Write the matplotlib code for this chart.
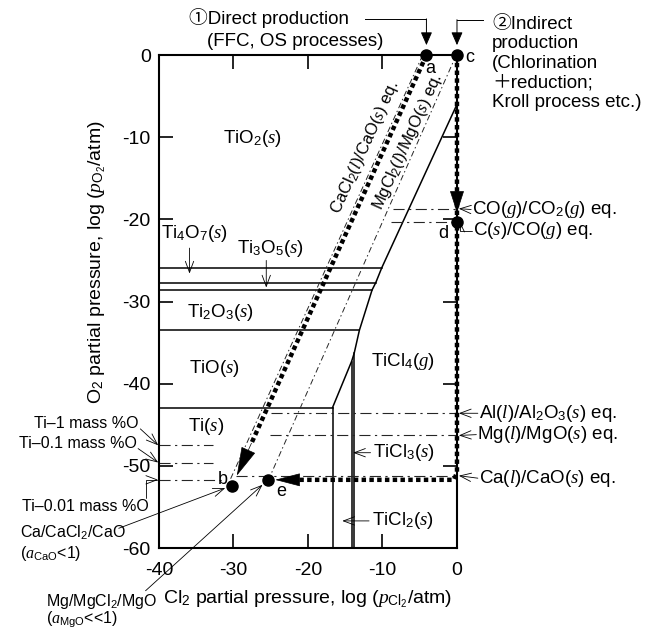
import matplotlib
matplotlib.use("Agg")
import matplotlib.pyplot as plt

plt.rcParams['font.family'] = ['Liberation Sans', 'Noto Sans CJK JP', 'DejaVu Sans']
plt.rcParams['mathtext.fontset'] = 'custom'
plt.rcParams['mathtext.rm'] = 'Liberation Sans'
plt.rcParams['mathtext.it'] = 'Liberation Serif:italic'
plt.rcParams['mathtext.bf'] = 'Liberation Sans:bold'
plt.rcParams['axes.unicode_minus'] = False

# phase boundaries, x = log pCl2, y = log pO2
oxide_y = [-25.9, -27.7, -28.6, -33.5, -42.9]
oxide_xend = [-10.1, -10.9, -11.4, -13.1, -16.7]
slope_x = [0, -10.1, -10.9, -11.4, -13.1, -13.8, -14.15, -16.7]
slope_y = [-6.0, -25.9, -27.7, -28.6, -33.5, -36.3, -37.3, -42.9]
chloride_x = [-13.8, -14.15, -16.7]
chloride_ytop = [-36.3, -37.3, -42.9]

# equilibrium lines (right side)
eq_names = [r"CO($g$)/CO$_2$($g$) eq.", r"C($s$)/CO($g$) eq.",
            r"Al($l$)/Al$_2$O$_3$($s$) eq.", r"Mg($l$)/MgO($s$) eq.",
            r"Ca($l$)/CaO($s$) eq."]
eq_y = [-18.7, -20.3, -43.6, -46.3, -51.2]
eq_xstart = [-8.6, -8.8, -25.0, -25.1, -29.6]
eq_text_y = [-18.8, -21.4, -43.6, -46.2, -51.5]

# oxygen in Ti (left side)
tio_names = ["Ti\u20131 mass %O", "Ti\u20130.1 mass %O", "Ti\u20130.01 mass %O"]
tio_y = [-47.5, -49.6, -51.7]
tio_xend = [-32.8, -32.8, -31.2]

# chloride/oxide equilibria
cacl2_x = [-4.6, -30.4]
cacl2_y = [0, -51.6]
mgcl2_x = [-0.1, -25.3]
mgcl2_y = [0, -51.7]

# process points
pt_names = ['a', 'b', 'c', 'd', 'e']
pt_x = [-4.1, -30.2, 0, 0, -25.3]
pt_y = [0, -52.5, 0, -20.3, -51.7]

phase_names = [r"TiO$_2$($s$)", r"Ti$_2$O$_3$($s$)", r"TiO($s$)", r"Ti($s$)", r"TiCl$_4$($g$)"]
phase_x = [-27.5, -31.7, -32.6, -33.7, -7.3]
phase_y = [-10.1, -31.3, -38.2, -45.2, -37.3]

fig = plt.figure(figsize=(6.58, 6.31), dpi=100)
ax = fig.add_axes([0.2416, 0.1315, 0.4529, 0.7813])
ax.set_xlim(-40, 0)
ax.set_ylim(-60, 0)
ax.set_xticks([-40, -30, -20, -10, 0])
ax.set_yticks([-60, -50, -40, -30, -20, -10, 0])
ax.tick_params(direction='in', length=10, width=1.2, top=True, right=True, labelsize=14)
ax.tick_params(axis='y', pad=6)
ax.tick_params(axis='x', pad=10)
for s in ax.spines.values():
    s.set_linewidth(1.5)

ax.set_xlabel(r"Cl$_2$ partial pressure, log ($p_{\mathrm{Cl}_2}$/atm)", fontsize=14)
ax.set_ylabel(r"O$_2$ partial pressure, log ($p_{\mathrm{O}_2}$/atm)", fontsize=14)
ax.xaxis.set_label_coords(0.5, -0.082)
ax.yaxis.set_label_coords(-0.17, 0.58)

# phase boundaries
lw_ph = 1.1
for y, xe in zip(oxide_y, oxide_xend):
    ax.plot([-40, xe], [y, y], color='k', lw=lw_ph)
ax.plot(slope_x, slope_y, color='k', lw=lw_ph)
for x, yt in zip(chloride_x, chloride_ytop):
    ax.plot([x, x], [yt, -60], color='k', lw=lw_ph)

# dash-dot equilibrium lines
dd = (0, (10, 4, 2, 4))
for y, xs in zip(eq_y, eq_xstart):
    ax.plot([xs, 0], [y, y], color='0.15', lw=0.8, ls=dd)
for y, xe in zip(tio_y, tio_xend):
    ax.plot([-40, xe], [y, y], color='0.15', lw=0.8, ls=dd)
ax.plot(cacl2_x, cacl2_y, color='0.15', lw=0.7, ls=(0, (6, 3, 1.5, 3)))
ax.plot(mgcl2_x, mgcl2_y, color='0.15', lw=0.7, ls=(0, (6, 3, 1.5, 3)))

# thick dotted process paths
dot = (0, (1, 0.75))
a = (pt_x[0], pt_y[0]); b = (pt_x[1], pt_y[1])
c = (pt_x[2], pt_y[2]); d = (pt_x[3], pt_y[3]); e = (pt_x[4], pt_y[4])
tip_ab = (a[0] + 0.975 * (b[0] - a[0]), a[1] + 0.975 * (b[1] - a[1]))
base_ab = (a[0] + 0.9 * (b[0] - a[0]), a[1] + 0.9 * (b[1] - a[1]))
ax.plot([a[0], base_ab[0]], [a[1], base_ab[1]], color='k', lw=3.2, ls=dot,
        dash_capstyle='butt', zorder=4)
ax.plot([c[0], c[0], c[0] - 0.4, e[0] + 2.5], [c[1], e[1] + 0.9, e[1], e[1]],
        color='k', lw=3.2, ls=dot, dash_capstyle='butt', zorder=4, clip_on=False)

big = dict(color='k', lw=0.5, shrinkA=0, shrinkB=0, mutation_scale=10)
ax.annotate('', xy=tip_ab, xytext=base_ab,
            arrowprops=dict(arrowstyle='-|>,head_length=1.9,head_width=0.5', **big))
ax.annotate('', xy=(d[0], d[1] + 1.1), xytext=(d[0], d[1] + 4),
            arrowprops=dict(arrowstyle='-|>,head_length=1.45,head_width=0.47', **big))
ax.annotate('', xy=(e[0] + 0.9, e[1]), xytext=(e[0] + 4, e[1]),
            arrowprops=dict(arrowstyle='-|>,head_length=1.65,head_width=0.43', **big))

ax.plot(pt_x, pt_y, 'o', ms=8, color='k', clip_on=False, zorder=6)
ax.text(a[0] + 0.5, a[1] - 1.6, 'a', fontsize=13, ha='center', va='center')
ax.text(b[0] - 1.3, b[1] + 0.8, 'b', fontsize=13, ha='center', va='center')
ax.text(c[0] + 1.75, c[1] - 0.3, 'c', fontsize=13, ha='center', va='center', clip_on=False)
ax.text(d[0] - 1.9, d[1] - 1.4, 'd', fontsize=13, ha='center', va='center')
ax.text(e[0] + 1.7, e[1] - 1.4, 'e', fontsize=13, ha='center', va='center')

# phase labels
for name, x, y in zip(phase_names, phase_x, phase_y):
    ax.text(x, y, name, fontsize=13.5, ha='center', va='center')

opn = dict(arrowstyle='->,head_length=0.8,head_width=0.3', color='k', lw=0.6,
           shrinkA=0, shrinkB=0, mutation_scale=10)
ax.text(-35.3, -21.7, r"Ti$_4$O$_7$($s$)", fontsize=13.5, ha='center', va='center')
ax.annotate('', xy=(-35.9, -26.6), xytext=(-35.9, -23.5), arrowprops=opn)
ax.text(-25.0, -23.5, r"Ti$_3$O$_5$($s$)", fontsize=13.5, ha='center', va='center')
ax.annotate('', xy=(-25.6, -28.3), xytext=(-25.6, -25.0), arrowprops=opn)
ax.text(-11.3, -48.4, r"TiCl$_3$($s$)", fontsize=13.5, ha='left', va='center')
ax.annotate('', xy=(-13.95, -48.4), xytext=(-11.6, -48.4), arrowprops=opn)
ax.text(-11.4, -56.7, r"TiCl$_2$($s$)", fontsize=13.5, ha='left', va='center')
ax.annotate('', xy=(-15.4, -56.7), xytext=(-11.8, -56.7), arrowprops=opn)

# rotated equilibrium labels
ax.text(-12.3, -11.2, r"CaCl$_2$($l$)/CaO($s$) eq.", fontsize=12, rotation=65.7,
        ha='center', va='center')
ax.text(-6.6, -10.6, r"MgCl$_2$($l$)/MgO($s$) eq.", fontsize=12, rotation=65.7,
        ha='center', va='center')

# right side labels
eq_text_x = [2.0, 2.15, 2.9, 2.7, 2.9]
for name, ty, tx, y in zip(eq_names, eq_text_y, eq_text_x, eq_y):
    ax.text(tx, ty, name, fontsize=13.5, ha='left', va='center', clip_on=False)
for i in [0, 2, 3, 4]:
    ax.annotate('', xy=(0.25, eq_y[i]), xytext=(eq_text_x[i] - 0.1, eq_text_y[i]),
                arrowprops=opn, annotation_clip=False)
ax.annotate('', xy=(0.45, d[1] - 0.1), xytext=(eq_text_x[1] - 0.1, eq_text_y[1]),
            arrowprops=dict(opn, arrowstyle='->,head_length=0.6,head_width=0.3',
                            connectionstyle='angle,angleA=0,angleB=90,rad=0'),
            annotation_clip=False)

# left side labels
fs_left = 11.5
tio_text_x = [-42.7, -43.0, -41.4]
tio_text_y = [-44.8, -47.3, -55.0]
for name, tx, ty in zip(tio_names, tio_text_x, tio_text_y):
    ax.text(tx, ty, name, fontsize=fs_left, ha='right', va='center', clip_on=False)
ax.annotate('', xy=(-40.1, tio_y[0]), xytext=(-42.5, -45.5), arrowprops=opn,
            annotation_clip=False)
ax.annotate('', xy=(-40.1, tio_y[1]), xytext=(-42.8, -47.9), arrowprops=opn,
            annotation_clip=False)
ax.annotate('', xy=(-40.1, tio_y[2]), xytext=(-41.7, -53.9),
            arrowprops=dict(opn, connectionstyle='angle,angleA=90,angleB=0,rad=0'),
            annotation_clip=False)

ax.text(-58.6, -58.2, r"Ca/CaCl$_2$/CaO", fontsize=fs_left, ha='left', va='center', clip_on=False)
ax.text(-58.6, -60.7, r"($a_{\mathrm{CaO}}$<1)", fontsize=fs_left, ha='left', va='center', clip_on=False)
ax.annotate('', xy=(b[0] - 0.9, b[1] - 0.2), xytext=(-45.4, -57.6), arrowprops=opn,
            annotation_clip=False)
ax.text(-55.1, -66.5, r"Mg/MgCl$_2$/MgO", fontsize=fs_left, ha='left', va='center', clip_on=False)
ax.text(-55.1, -68.7, r"($a_{\mathrm{MgO}}$<<1)", fontsize=fs_left, ha='left', va='center', clip_on=False)
ax.annotate('', xy=(e[0] - 0.8, e[1] - 0.6), xytext=(-41.8, -65.2), arrowprops=opn,
            annotation_clip=False)

# process titles
ax.text(-36.0, 4.5, "\u2460Direct production", fontsize=13.5, ha='left', va='center', clip_on=False)
ax.text(-33.5, 1.6, "(FFC, OS processes)", fontsize=13.5, ha='left', va='center', clip_on=False)
ax.plot([-12.4, a[0]], [4.4, 4.4], color='k', lw=0.7, clip_on=False)
ax.annotate('', xy=(a[0], 1.2), xytext=(a[0], 4.4), annotation_clip=False,
            arrowprops=dict(arrowstyle='-|>,head_length=0.8,head_width=0.35', color='k',
                            lw=0.7, shrinkA=0, shrinkB=0, mutation_scale=10))
ax.text(4.7, -1.0, "\u2461Indirect\nproduction\n(Chlorination\n\uff0breduction;\nKroll process etc.)",
        fontsize=13.5, ha='left', va='center', linespacing=1.2, clip_on=False)
ax.plot([3.5, c[0]], [4.3, 4.3], color='k', lw=0.7, clip_on=False)
ax.annotate('', xy=(c[0], 1.2), xytext=(c[0], 4.3), annotation_clip=False,
            arrowprops=dict(arrowstyle='-|>,head_length=0.8,head_width=0.35', color='k',
                            lw=0.7, shrinkA=0, shrinkB=0, mutation_scale=10))

plt.savefig("out.png", dpi=100)
